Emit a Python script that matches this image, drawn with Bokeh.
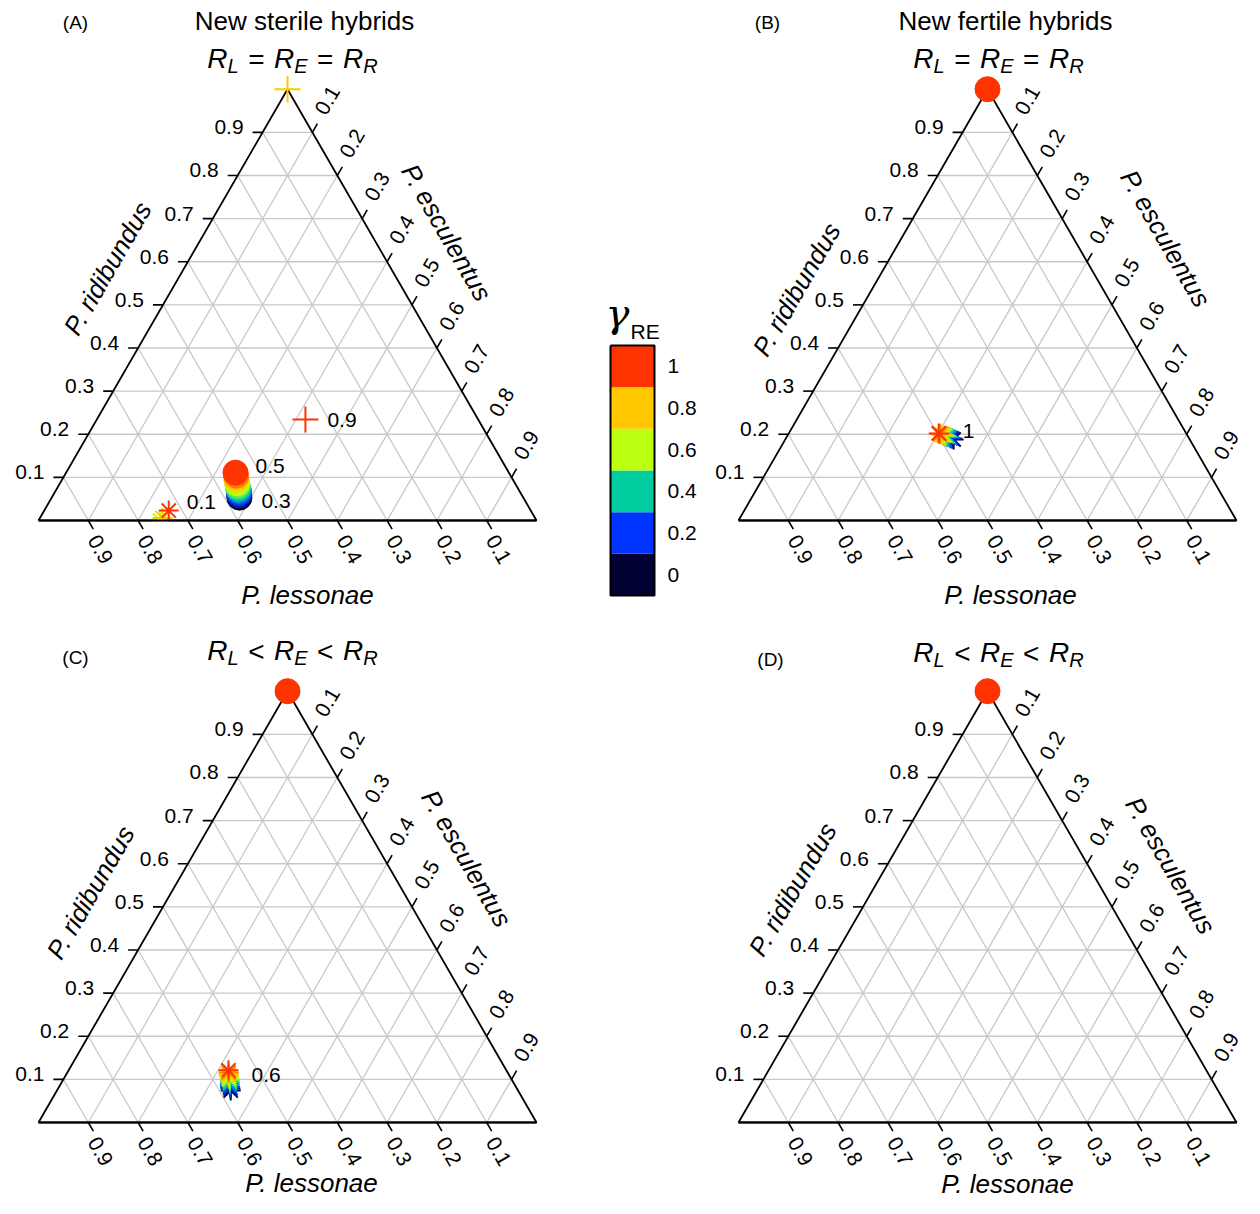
import math
from bokeh.plotting import figure
from bokeh.models import Range1d, ColumnDataSource
from bokeh.core.properties import value
from bokeh.embed import file_html
from bokeh.resources import INLINE

FONT = "Liberation Sans"

# ---------------- data ----------------
gamma_levels = [0.0, 0.1, 0.2, 0.3, 0.4, 0.5, 0.6, 0.7, 0.8, 0.9, 1.0]
gamma_colors = ["#000033", "#001a99", "#0033ff", "#0080d0", "#00cca0", "#60e660",
                "#bbff11", "#e0e408", "#ffc800", "#ff7e00", "#ff3300"]
colorbar_values = [0.0, 0.2, 0.4, 0.6, 0.8, 1.0]
colorbar_labels = ["0", "0.2", "0.4", "0.6", "0.8", "1"]
colorbar_colors = ["#000033", "#0033ff", "#00cca0", "#bbff11", "#ffc800", "#ff3300"]

axis_ticks = [0.1, 0.2, 0.3, 0.4, 0.5, 0.6, 0.7, 0.8, 0.9]
axis_tick_labels = ["0.1", "0.2", "0.3", "0.4", "0.5", "0.6", "0.7", "0.8", "0.9"]

panel_letters = {"A": "(A)", "B": "(B)", "C": "(C)", "D": "(D)"}
panel_titles = {"A": "New sterile hybrids", "B": "New fertile hybrids", "C": "", "D": ""}
panel_relations = {"A": "=", "B": "=", "C": "<", "D": "<"}
name_L = "P. lessonae"
name_E = "P. esculentus"
name_R = "P. ridibundus"

# equilibria: gamma_RE value, esculentus fraction E, ridibundus fraction R
A_plus_gamma = [0.8, 1.0]
A_plus_E = [0.0, 0.419]
A_plus_R = [1.0, 0.234]

A_dot_gamma = [0.0, 0.1, 0.2, 0.3, 0.4, 0.5, 0.6, 0.7, 0.8, 0.9, 1.0]
A_dot_E = [0.377, 0.374, 0.371, 0.368, 0.364, 0.360, 0.356, 0.352, 0.348, 0.345, 0.340]
A_dot_R = [0.053, 0.058, 0.063, 0.069, 0.074, 0.080, 0.086, 0.092, 0.098, 0.104, 0.111]

A_star_gamma = [0.6, 0.8, 1.0]
A_star_E = [0.244, 0.246, 0.250]
A_star_R = [0.000, 0.006, 0.023]

B_dot_gamma = [1.0]
B_dot_E = [0.0]
B_dot_R = [1.0]

B_star_gamma = [0.0, 0.1, 0.2, 0.3, 0.4, 0.5, 0.6, 0.7, 0.8, 0.9, 1.0]
B_star_E = [0.338, 0.334, 0.330, 0.327, 0.323, 0.319, 0.315, 0.311, 0.308, 0.304, 0.301]
B_star_R = [0.188, 0.190, 0.191, 0.193, 0.194, 0.196, 0.197, 0.198, 0.199, 0.201, 0.202]

C_dot_gamma = [1.0]
C_dot_E = [0.0]
C_dot_R = [1.0]

C_star_gamma = [0.0, 0.1, 0.2, 0.3, 0.4, 0.5, 0.6, 0.7, 0.8, 0.9, 1.0]
C_star_E = [0.349, 0.346, 0.343, 0.340, 0.338, 0.335, 0.332, 0.329, 0.326, 0.324, 0.321]
C_star_R = [0.074, 0.079, 0.083, 0.088, 0.093, 0.098, 0.102, 0.107, 0.111, 0.116, 0.121]

D_dot_gamma = [1.0]
D_dot_E = [0.0]
D_dot_R = [1.0]

# annotation texts (attached to a point of a series)
A_notes = ["0.9", "0.5", "0.3", "0.1"]
B_notes = ["1"]
C_notes = ["0.6"]

# ---------------- layout ----------------
W = 498.0
H = W * math.sqrt(3) / 2
layout = {
    "A": dict(x0=38, yb=520, letter=(75, 22), title=(304, 20), formula=(292, 58),
              lessonae=(307, 594), ridibundus=(107, 268), esculentus=(446, 232)),
    "B": dict(x0=738, yb=520, letter=(767, 22), title=(1005, 20), formula=(998, 58),
              lessonae=(1010, 594), ridibundus=(796, 289), esculentus=(1165, 238)),
    "C": dict(x0=38, yb=1122, letter=(75, 657), title=None, formula=(292, 650),
              lessonae=(311, 1182), ridibundus=(90, 892), esculentus=(466, 858)),
    "D": dict(x0=738, yb=1122, letter=(770, 659), title=None, formula=(998, 652),
              lessonae=(1007, 1183), ridibundus=(792, 889), esculentus=(1170, 865)),
}


def tern(panel, E, R):
    lay = layout[panel]
    return lay["x0"] + (E + R / 2.0) * W, lay["yb"] - R * H


def color_of(g):
    return gamma_colors[gamma_levels.index(min(gamma_levels, key=lambda v: abs(v - g)))]


p = figure(width=1244, height=1198, x_range=Range1d(0, 1244), y_range=Range1d(1198, 0),
           output_backend="svg", toolbar_location=None, min_border=0,
           x_axis_type=None, y_axis_type=None)
p.grid.visible = False
p.outline_line_color = None
p.background_fill_color = "white"
p.border_fill_color = "white"


def txt(x, y, s, size, align="center", baseline="middle", angle=0.0, style="normal",
        font=FONT, color="black"):
    p.text(x=[x], y=[y], text=[s], text_font=value(font), text_font_size=f"{size}px",
           text_align=align, text_baseline=baseline, angle=angle, text_font_style=style,
           text_color=color)


series = [
    ("A", "cross", A_plus_gamma, A_plus_E, A_plus_R),
    ("A", "circle", A_dot_gamma, A_dot_E, A_dot_R),
    ("A", "asterisk", A_star_gamma, A_star_E, A_star_R),
    ("B", "circle", B_dot_gamma, B_dot_E, B_dot_R),
    ("B", "asterisk", B_star_gamma, B_star_E, B_star_R),
    ("C", "circle", C_dot_gamma, C_dot_E, C_dot_R),
    ("C", "asterisk", C_star_gamma, C_star_E, C_star_R),
    ("D", "circle", D_dot_gamma, D_dot_E, D_dot_R),
]
marker_size = {"cross": 26, "circle": 25, "asterisk": 20}
marker_lw = {"cross": 2.0, "circle": 1.0, "asterisk": 2.0}

for panel in ["A", "B", "C", "D"]:
    lay = layout[panel]
    x0, yb = lay["x0"], lay["yb"]
    # grid
    xs, ys = [], []
    for f in axis_ticks:
        for (e1, r1), (e2, r2) in [((0, f), (1 - f, f)),          # R const
                                   ((1 - f, 0), (0, 1 - f)),      # L const
                                   ((f, 0), (f, 1 - f))]:         # E const
            a = tern(panel, e1, r1)
            b = tern(panel, e2, r2)
            xs.append([a[0], b[0]])
            ys.append([a[1], b[1]])
    p.multi_line(xs=xs, ys=ys, line_color="#c8c8c8", line_width=1.3)
    # edges
    cL = tern(panel, 0, 0)
    cE = tern(panel, 1, 0)
    cR = tern(panel, 0, 1)
    p.line(x=[cL[0], cE[0], cR[0], cL[0]], y=[cL[1], cE[1], cR[1], cL[1]],
           line_color="black", line_width=1.8)
    # markers
    for (sp, mk, g, E, R) in series:
        if sp != panel:
            continue
        pts = [tern(panel, e, r) for e, r in zip(E, R)]
        src = ColumnDataSource(dict(x=[q[0] for q in pts], y=[q[1] for q in pts],
                                    c=[color_of(v) for v in g]))
        p.scatter(x="x", y="y", source=src, marker=mk, size=marker_size[mk],
                  fill_color="c", line_color="c", line_width=marker_lw[mk])
    # mask below base and redraw base
    p.quad(left=[x0 - 8], right=[x0 + W + 8], bottom=[yb + 13], top=[yb + 1.2],
           fill_color="white", line_color=None)
    p.line(x=[cL[0], cE[0]], y=[cL[1], cE[1]], line_color="black", line_width=1.8)
    # ticks and tick labels
    txs, tys = [], []
    for f, lab in zip(axis_ticks, axis_tick_labels):
        # bottom: lessonae
        bx, by = tern(panel, 1 - f, 0)
        txs.append([bx, bx + 5]); tys.append([by, by + 8.66])
        txt(bx + 12, by + 29, lab, 21, angle=-math.pi / 3)
        # right: esculentus
        rx, ry = tern(panel, f, 1 - f)
        txs.append([rx, rx + 5]); tys.append([ry, ry - 8.66])
        txt(rx + 15, ry - 32, lab, 21, angle=math.pi / 3)
        # left: ridibundus
        lx, ly = tern(panel, 0, f)
        txs.append([lx, lx - 10]); tys.append([ly, ly])
        txt(lx - 19, ly - 5, lab, 21, align="right")
    p.multi_line(xs=txs, ys=tys, line_color="black", line_width=1.6)
    # axis names
    txt(*lay["lessonae"], name_L, 26, style="italic")
    txt(*lay["ridibundus"], name_R, 26, style="italic", angle=math.pi / 3)
    txt(*lay["esculentus"], name_E, 26, style="italic", angle=-math.pi / 3)
    # titles
    txt(*lay["letter"], panel_letters[panel], 19)
    if lay["title"] is not None:
        txt(*lay["title"], panel_titles[panel], 26)
    # formula R_L rel R_E rel R_R
    big, sub, gap = 28, 20, 9.5
    rel = panel_relations[panel]
    pieces = [("R", big, 0.722), ("L", sub, 0.556), (rel, big, 0.584), ("R", big, 0.722),
              ("E", sub, 0.667), (rel, big, 0.584), ("R", big, 0.722), ("R", sub, 0.722)]
    widths = [sz * em for s, sz, em in pieces]
    total = sum(widths) + 4 * gap
    fx, fy = lay["formula"]
    cur = fx - total / 2
    for (s, sz, em), wdt in zip(pieces, widths):
        if s in ("=", "<"):
            cur += gap
            txt(cur, fy + 1, s, sz, align="left")
            cur += wdt + gap
        else:
            yy = fy + (7 if sz == sub else 0)
            txt(cur, yy, s, sz, align="left", style="italic")
            cur += wdt

# annotations
note_specs = [
    ("A", A_notes[0], A_plus_E[1], A_plus_R[1], 22, 0),
    ("A", A_notes[1], A_dot_E[-1], A_dot_R[-1], 20, -7),
    ("A", A_notes[2], A_dot_E[0], A_dot_R[0], 22, 3),
    ("A", A_notes[3], A_star_E[-1], A_star_R[-1], 18, -9),
    ("B", B_notes[0], B_star_E[-1], B_star_R[-1], 24, -2),
    ("C", C_notes[0], C_star_E[-1], C_star_R[-1], 23, 5),
]
for panel, s, e, r, dx, dy in note_specs:
    x, y = tern(panel, e, r)
    txt(x + dx, y + dy, s, 21, align="left")

# colorbar
cb_left, cb_right, cb_top, cb_bottom = 610, 654, 345, 595
seg = (cb_bottom - cb_top) / len(colorbar_values)
tops, bots = [], []
for i, v in enumerate(colorbar_values):
    b = cb_bottom - i * seg
    bots.append(b)
    tops.append(b - seg)
p.quad(left=[cb_left] * 6, right=[cb_right] * 6, top=tops, bottom=bots,
       fill_color=colorbar_colors, line_color=None)
p.line(x=[cb_left, cb_right, cb_right, cb_left, cb_left],
       y=[cb_top, cb_top, cb_bottom, cb_bottom, cb_top], line_color="black", line_width=2)
for lab, t, b in zip(colorbar_labels, tops, bots):
    txt(667, (t + b) / 2, lab, 21, align="left")
txt(605, 312, "γ", 40, align="left", style="italic", font="DejaVu Serif")
txt(630, 331, "RE", 21, align="left")

open("out.html", "w").write(file_html(p, INLINE))
